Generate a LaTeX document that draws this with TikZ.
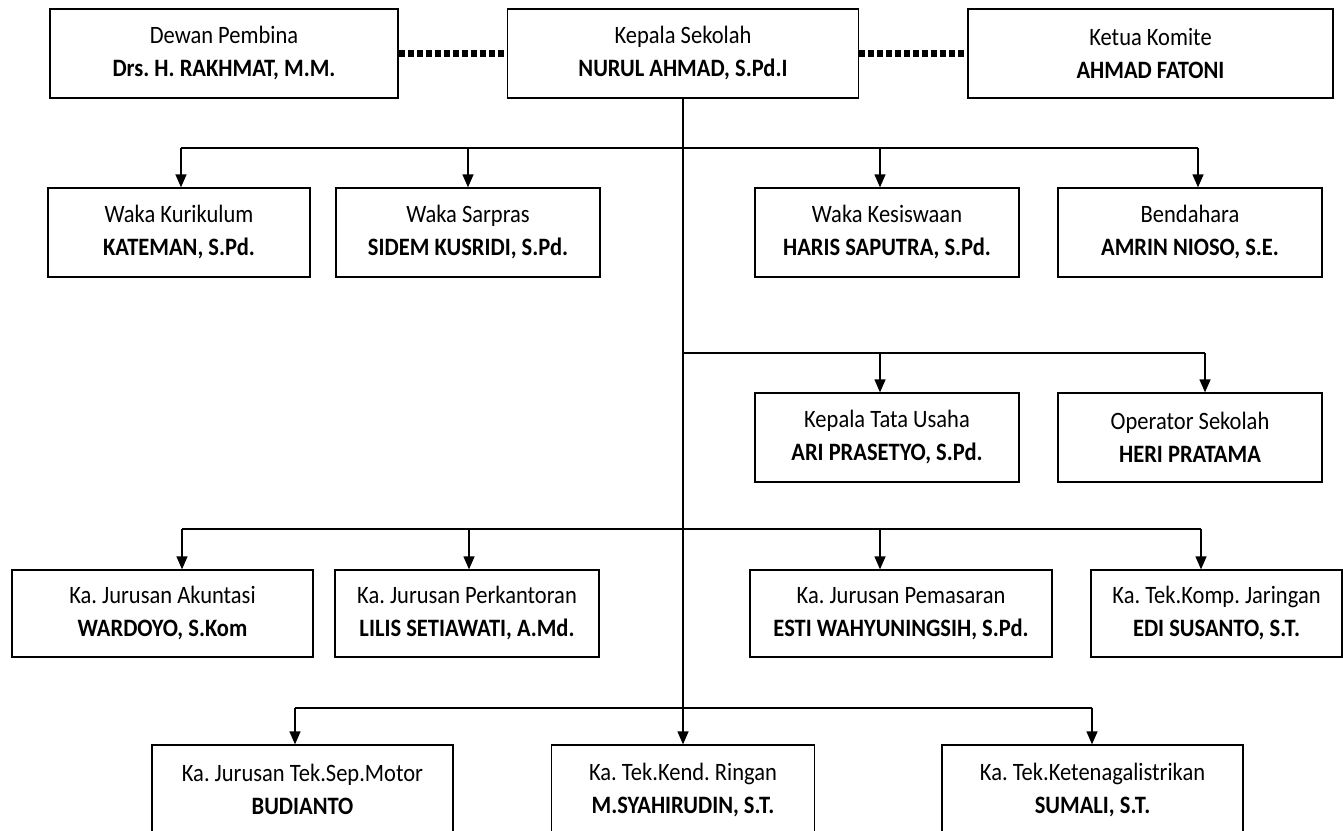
\documentclass[tikz,border=0pt]{standalone}
\usepackage{fontspec}
\setmainfont{Carlito}[FakeStretch=0.9]
\usetikzlibrary{arrows.meta}
\frenchspacing

\begin{document}
\begin{tikzpicture}[
    x=1pt, y=-1pt,
    box/.style={draw, line width=1.3pt, align=center, inner sep=0pt,
      font=\fontsize{25}{33}\selectfont},
    wire/.style={line width=1.3pt},
    link/.style={-{Triangle[width=11pt,length=13pt]}, line width=1.3pt},
    dots/.style={line width=7pt, dash pattern=on 6pt off 3pt}
  ]
    \useasboundingbox (0,0) rectangle (1343,830);
    \clip (0,0) rectangle (1343,830);

    % pimpinan
    \node[box, minimum width=348pt, minimum height=89pt] (dewan) at (224,53.5) {Dewan Pembina\\\textbf{Drs. H. RAKHMAT, M.M.}};
    \node[box, minimum width=351pt, minimum height=89pt] (kepsek) at (683,53.5) {Kepala Sekolah\\\textbf{NURUL AHMAD, S.Pd.I}};
    \node[box, minimum width=365pt, minimum height=89pt] (komite) at (1150.5,53.5) {Ketua Komite\\\textbf{AHMAD FATONI}};
    \draw[dots] (dewan.east) -- (kepsek.west);
    \draw[dots] (kepsek.east) -- (komite.west);

    % wakil kepala
    \node[box, minimum width=262pt, minimum height=89pt] (kurikulum) at (179,232.5) {Waka Kurikulum\\\textbf{KATEMAN, S.Pd.}};
    \node[box, minimum width=264pt, minimum height=89pt] (sarpras) at (468,232.5) {Waka Sarpras\\\textbf{SIDEM KUSRIDI, S.Pd.}};
    \node[box, minimum width=264pt, minimum height=89pt] (kesiswaan) at (887,232.5) {Waka Kesiswaan\\\textbf{HARIS SAPUTRA, S.Pd.}};
    \node[box, minimum width=264pt, minimum height=89pt] (bendahara) at (1190,232.5) {Bendahara\\\textbf{AMRIN NIOSO, S.E.}};

    % tata usaha
    \node[box, minimum width=264pt, minimum height=89pt] (tu) at (887,437.5) {Kepala Tata Usaha\\\textbf{ARI PRASETYO, S.Pd.}};
    \node[box, minimum width=264pt, minimum height=89pt] (operator) at (1190,437.5) {Operator Sekolah\\\textbf{HERI PRATAMA}};

    % ketua jurusan
    \node[box, minimum width=301pt, minimum height=87pt] (akuntansi) at (162.5,613.5) {Ka. Jurusan Akuntasi\\\textbf{WARDOYO, S.Kom}};
    \node[box, minimum width=264pt, minimum height=87pt] (perkantoran) at (467,613.5) {Ka. Jurusan Perkantoran\\\textbf{LILIS SETIAWATI, A.Md.}};
    \node[box, minimum width=302pt, minimum height=87pt] (pemasaran) at (901,613.5) {Ka. Jurusan Pemasaran\\\textbf{ESTI WAHYUNINGSIH, S.Pd.}};
    \node[box, minimum width=251pt, minimum height=87pt] (tkj) at (1216.5,613.5) {Ka. Tek.Komp. Jaringan\\\textbf{EDI SUSANTO, S.T.}};

    \node[box, minimum width=301pt, minimum height=89pt] (tsm) at (302.5,789.5) {Ka. Jurusan Tek.Sep.Motor\\\textbf{BUDIANTO}};
    \node[box, minimum width=263pt, minimum height=89pt] (tkr) at (683,789.5) {Ka. Tek.Kend. Ringan\\\textbf{M.SYAHIRUDIN, S.T.}};
    \node[box, minimum width=301pt, minimum height=89pt] (titl) at (1092.5,789.5) {Ka. Tek.Ketenagalistrikan\\\textbf{SUMALI, S.T.}};

    % garis komando
    \coordinate (a1) at (181,148);  \coordinate (a4) at (1198,148);
    \coordinate (a2) at (468,148);  \coordinate (a3) at (880,148);
    \coordinate (b0) at (683,353);  \coordinate (b1) at (880,353);  \coordinate (b2) at (1205,353);
    \coordinate (c1) at (182,529);  \coordinate (c4) at (1201,529);
    \coordinate (c2) at (469,529);  \coordinate (c3) at (880,529);
    \coordinate (d1) at (295,708);  \coordinate (d3) at (1092,708);

    \draw[link] (kepsek.south) -- (tkr.north);
    \draw[wire] (a1) -- (a4);
    \draw[wire] (b0) -- (b2);
    \draw[wire] (c1) -- (c4);
    \draw[wire] (d1) -- (d3);
    \foreach \c/\n in {a1/kurikulum, a2/sarpras, a3/kesiswaan, a4/bendahara,
        b1/tu, b2/operator, c1/akuntansi, c2/perkantoran, c3/pemasaran, c4/tkj,
        d1/tsm, d3/titl}
      \draw[link] (\c) -- (\c |- \n.north);
  \end{tikzpicture}
\end{document}
